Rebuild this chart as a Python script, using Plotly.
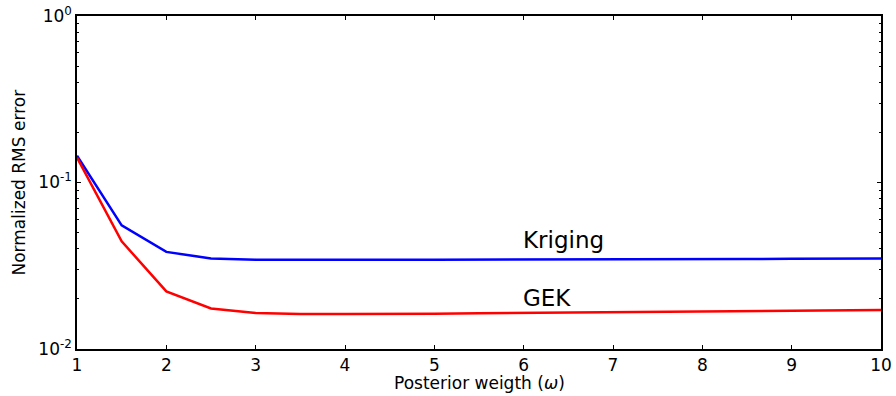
import plotly.graph_objects as go
import numpy as np

weights = [1, 1.5, 2, 2.5, 3, 3.5, 4, 4.5, 5, 5.5, 6, 6.5, 7, 7.5, 8, 8.5, 9, 9.5, 10]
kriging = [0.145, 0.0553, 0.0383, 0.0350, 0.0344, 0.0343, 0.0343, 0.0343, 0.0344, 0.0344,
           0.0345, 0.0345, 0.0346, 0.0346, 0.0347, 0.0347, 0.0348, 0.0348, 0.0349]
gek = [0.141, 0.0443, 0.0222, 0.0175, 0.01645, 0.0162, 0.0162, 0.0162, 0.0163, 0.0164,
       0.0165, 0.0166, 0.0167, 0.0168, 0.0169, 0.0169, 0.0170, 0.0171, 0.01715]
xticks = [1, 2, 3, 4, 5, 6, 7, 8, 9, 10]
yticks = [1, 0.1, 0.01]
yticktext = ["10<sup>0</sup>", "10<sup>-1</sup>", "10<sup>-2</sup>"]
minor_y = [m * 10.0 ** e for e in (-2, -1) for m in range(2, 10)]
labels = [("Kriging", 6, 0.04), ("GEK", 6, 0.018)]
x_title = "Posterior weigth (<i>ω</i>)"
y_title = "Normalized RMS error"

font = "DejaVu Sans"
W, H = 896, 396
L, R, T, B = 77, 15, 16, 47

fig = go.Figure()
fig.add_trace(go.Scatter(x=weights, y=kriging, mode="lines", line=dict(color="#0000ff", width=2.5),
                         showlegend=False))
fig.add_trace(go.Scatter(x=weights, y=gek, mode="lines", line=dict(color="#ff0000", width=2.5),
                         showlegend=False))
for text, x, y in labels:
    fig.add_annotation(x=x, y=np.log10(y), text=text, showarrow=False, xanchor="left",
                       yanchor="bottom", yshift=-6, xshift=-3,
                       font=dict(family=font, size=23, color="black"))

fig.add_annotation(xref="paper", yref="paper", x=0.5, y=0, yanchor="middle", yshift=-34,
                   text=x_title, showarrow=False, font=dict(family=font, size=17, color="black"))
fig.add_annotation(xref="paper", yref="paper", x=0, y=0.5, xanchor="center", xshift=-59,
                   textangle=-90, text=y_title, showarrow=False,
                   font=dict(family=font, size=17, color="black"))

fig.update_layout(
    width=W, height=H,
    margin=dict(l=L, r=R, t=T, b=B),
    plot_bgcolor="white", paper_bgcolor="white",
    font=dict(family=font, size=17, color="black"),
)
fig.update_xaxes(range=[1, 10], tickvals=xticks, ticks="inside", ticklen=4, tickcolor="black",
                 showline=True, linecolor="black", linewidth=1.5, mirror="ticks", showgrid=False,
                 zeroline=False, automargin=False, tickfont=dict(size=17),
                 ticklabeloverflow="allow")
fig.update_yaxes(type="log", range=[-2, 0], tickvals=yticks, ticktext=yticktext, ticks="inside",
                 ticklen=4, tickcolor="black", showline=True, linecolor="black", linewidth=1.5,
                 mirror="ticks", showgrid=False, zeroline=False, automargin=False,
                 tickfont=dict(size=17), ticklabeloverflow="allow",
                 minor=dict(tickvals=minor_y, ticks="inside", ticklen=2, tickcolor="black"))
fig.write_html("out.html", config={"displayModeBar": False},
               post_script="document.body.style.margin='0';document.body.style.overflow='hidden';")
